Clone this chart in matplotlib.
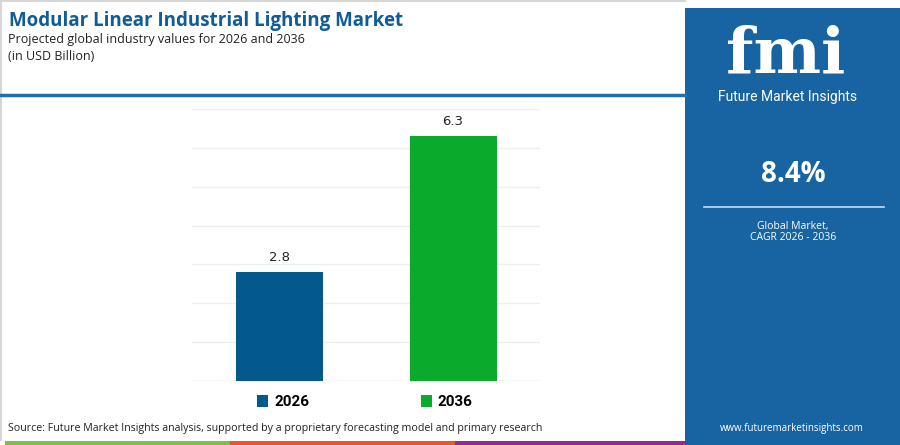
import matplotlib.pyplot as plt
from matplotlib.patches import Patch, Rectangle
from matplotlib.lines import Line2D

# chart data
years = ["2026", "2036"]
values = [2.8, 6.3]
bar_colors = ["#03588c", "#0aab2d"]
cagr = "8.4%"

W, H = 900, 445


def fx(px):
    return px / W


def fy(py):
    return 1 - py / H


fig = plt.figure(figsize=(9, 4.45), dpi=100)
fig.patch.set_facecolor("white")

# outer border of the white panel
fig.add_artist(Line2D([fx(1), fx(1)], [fy(0), fy(440)], color="#d6d6d6", lw=1.5))
fig.add_artist(Line2D([fx(0), fx(685)], [fy(1), fy(1)], color="#d6d6d6", lw=1.5))

# header texts
fig.text(fx(9), fy(21), "Modular Linear Industrial Lighting Market", fontsize=13.5,
         fontweight="bold", color="#0f5c99", family="Open Sans", va="center")
fig.text(fx(8), fy(39), "Projected global industry values for 2026 and 2036", fontsize=9,
         color="#222222", family="Open Sans", va="center")
fig.text(fx(8), fy(56), "(in USD Billion)", fontsize=9, color="#222222",
         family="Open Sans", va="center")
fig.add_artist(Line2D([fx(0), fx(685)], [fy(95), fy(95)], color="#1d6fad", lw=2.5))

# bars
ax = fig.add_axes([fx(192), fy(381), fx(540) - fx(192), (381 - 109) / H])
x = range(len(years))
bars = ax.bar(x, values, width=0.5, color=bar_colors, zorder=3)
ax.set_xlim(-0.5, 1.5)
ax.set_ylim(0, 7)
ax.set_yticks(range(0, 8))
ax.grid(axis="y", color="#eeeeee", lw=1, zorder=0)
ax.tick_params(left=False, bottom=False, labelleft=False, labelbottom=False)
for s in ax.spines.values():
    s.set_visible(False)
ax.axhline(0, color="#e6e6e6", lw=1, zorder=2)
for b, v in zip(bars, values):
    ax.text(b.get_x() + b.get_width() / 2, v + 0.2, f"{v}", ha="center", va="bottom",
            fontsize=9.5, color="#222222", family="DejaVu Sans")

handles = [Patch(facecolor=c, edgecolor="none") for c in bar_colors]
leg = fig.legend(handles, years, loc="center", bbox_to_anchor=(fx(365), fy(402)), ncol=2,
                 frameon=False, handlelength=0.7, handleheight=0.9, handletextpad=0.4,
                 columnspacing=7.3, prop={"family": "Roboto", "weight": "bold", "size": 11})

# source line
fig.text(fx(8), fy(429), "Source: Future Market Insights analysis, supported by a proprietary "
         "forecasting model and primary research", fontsize=7.7, color="#222222",
         family="Open Sans", va="center")

# bottom colour strip
for x0, x1, c in [(5, 230, "#7cc142"), (230, 455, "#e8582b"), (455, 685, "#8e2f8d")]:
    fig.add_artist(Rectangle((fx(x0), 0), fx(x1 - x0), 4 / H, color=c, lw=0))

# right panel
fig.add_artist(Rectangle((fx(685), 0), fx(215), fy(8), color="#1864a3", lw=0))
fig.text(fx(786), fy(55), "fmi", fontsize=46, fontweight="bold", color="white",
         family="DejaVu Serif", ha="center", va="center")
fig.text(fx(788), fy(97), "Future Market Insights", fontsize=10, color="white",
         family="Roboto", ha="center", va="center")
fig.text(fx(793), fy(174), cagr, fontsize=20, fontweight="bold", color="white",
         family="Open Sans", ha="center", va="center")
fig.add_artist(Line2D([fx(704), fx(884)], [fy(207), fy(207)], color="#c9dcef", lw=1.2))
fig.text(fx(793), fy(226), "Global Market,", fontsize=7.5, color="white",
         family="Open Sans", ha="center", va="center")
fig.text(fx(793), fy(238), "CAGR 2026 - 2036", fontsize=7.5, color="white",
         family="Open Sans", ha="center", va="center")
fig.text(fx(792), fy(429), "www.futuremarketinsights.com", fontsize=7, color="white",
         family="Open Sans", ha="center", va="center")

fig.savefig("out.png", dpi=100)
